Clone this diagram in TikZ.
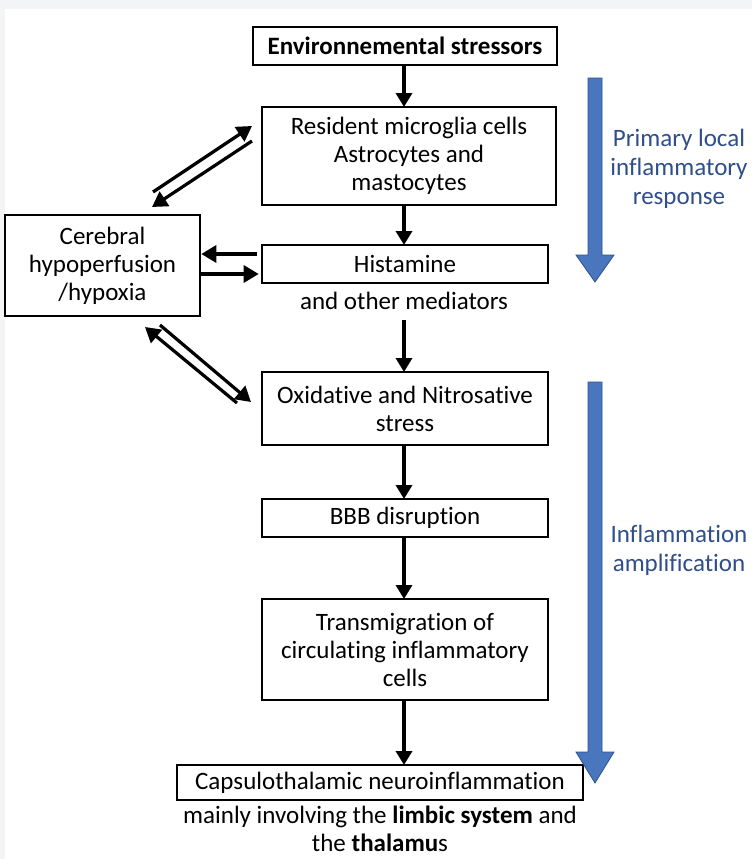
\documentclass[tikz,border=0pt]{standalone}
\usepackage{fontspec}
\setmainfont{Carlito}[Ligatures=NoCommon]
\usetikzlibrary{arrows.meta,calc}
\definecolor{bggray}{HTML}{F3F4F6}
\definecolor{bluefill}{HTML}{4A76BE}
\definecolor{blueedge}{HTML}{2F528F}
\definecolor{bluetext}{HTML}{2F4F8A}
\tikzset{
  box/.style={draw, line width=2.6pt, align=center, inner sep=0pt, font=\fontsize{25}{28}\selectfont},
  plain/.style={align=center, inner sep=0pt, font=\fontsize{25}{28}\selectfont},
  side/.style={align=center, inner sep=0pt, text=bluetext, font=\fontsize{25}{29}\selectfont},
  arr/.style={line width=3.4pt, -{Triangle[length=14pt,width=16pt]}},
  darr/.style={line width=3.2pt, -{Triangle[length=15pt,width=17pt]}},
  bigarrow/.style={fill=bluefill, draw=blueedge, line width=0.8pt}
}
\begin{document}
\begin{tikzpicture}[x=1pt,y=-1pt]
\fill[bggray] (0,0) rectangle (752,859);
\fill[white] (5,9) rectangle (752,859);
\useasboundingbox (0,0) rectangle (752,859);

\node[box, minimum width=304pt, minimum height=38pt, font=\fontsize{25}{28}\selectfont\bfseries] (env) at (405,46) {Environnemental stressors};
\node[box, minimum width=294pt, minimum height=98pt] (res) at (409,156) {Resident microglia cells\\Astrocytes and\\mastocytes};
\node[box, minimum width=286pt, minimum height=38pt] (his) at (405,264) {Histamine};
\node[plain] (med) at (404,301) {and other mediators};
\node[box, minimum width=286pt, minimum height=73pt] (oxi) at (405,408.5) {Oxidative and Nitrosative\\stress};
\node[box, minimum width=286pt, minimum height=38pt] (bbb) at (405,518) {BBB disruption};
\node[box, minimum width=286pt, minimum height=101pt] (tra) at (405,649.5) {Transmigration of\\circulating inflammatory\\cells};
\node[box, minimum width=406pt, minimum height=35pt] (cap) at (380,782.5) {Capsulothalamic neuroinflammation};
\node[plain] (cap2) at (380,817) {mainly involving the \textbf{limbic system} and};
\node[plain] (cap3) at (380,843) {the \textbf{thalamu}s};
\node[box, minimum width=195pt, minimum height=101pt] (cer) at (102.5,265.5) {Cerebral\\hypoperfusion\\/hypoxia};

% vertical flow
\draw[arr] (env.south -| 404,0) -- (404,107);
\draw[arr] (404,205) -- (404,245);
\draw[arr] (404,320) -- (404,372);
\draw[arr] (404,445) -- (404,499);
\draw[arr] (404,537) -- (404,599);
\draw[arr] (404,700) -- (404,765);

% horizontal arrows
\coordinate (h1s) at ($(his.west)+(-4,-10)$);
\coordinate (h1e) at ($(cer.east)+(0,-11.5)$);
\coordinate (h2s) at ($(cer.east)+(0,8.5)$);
\coordinate (h2e) at ($(his.west)+(-2,10)$);
\draw[darr] (h1s) -- (h1e);
\draw[darr] (h2s) -- (h2e);

% upper diagonal pair
\coordinate (u1s) at (153,192);
\coordinate (u1e) at (252,126);
\coordinate (u2s) at (252,141);
\coordinate (u2e) at (152,207);
\draw[darr] (u1s) -- (u1e);
\draw[darr] (u2s) -- (u2e);

% lower diagonal pair
\coordinate (l1s) at (237,403);
\coordinate (l1e) at (145,327);
\coordinate (l2s) at (160,325);
\coordinate (l2e) at (251,402);
\draw[darr] (l1s) -- (l1e);
\draw[darr] (l2s) -- (l2e);

% big blue arrows
\draw[bigarrow] (588,78) -- (602,78) -- (602,255) -- (614,255) -- (595,282) -- (576,255) -- (588,255) -- cycle;
\draw[bigarrow] (588,382) -- (602,382) -- (602,752) -- (614,752) -- (595,783) -- (576,752) -- (588,752) -- cycle;
\node[side] (lab1) at (679,169) {Primary local\\inflammatory\\response};
\node[side] (lab2) at (679,550) {Inflammation\\amplification};
\end{tikzpicture}
\end{document}
